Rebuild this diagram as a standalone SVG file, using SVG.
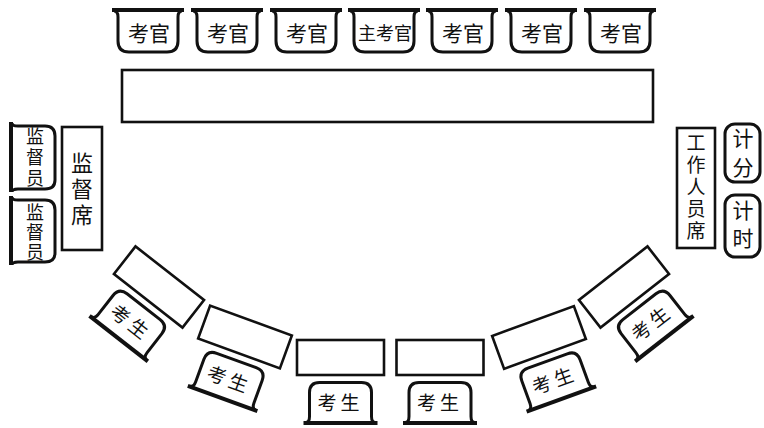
<svg xmlns="http://www.w3.org/2000/svg" xmlns:xlink="http://www.w3.org/1999/xlink" width="764" height="428" viewBox="0 0 764 428">
<style>
.ln{fill:none;stroke:#111;stroke-width:3;stroke-linejoin:round}
.bar{fill:none;stroke:#111;stroke-width:4}
.rc{fill:#fff;stroke:#111;stroke-width:2.6}
.t{font-family:"Noto Sans CJK SC","Noto Sans",sans-serif;fill:#111;text-anchor:middle;dominant-baseline:central}
.v{font-family:"Noto Sans CJK SC","Noto Sans",sans-serif;fill:#111;text-anchor:middle;writing-mode:vertical-rl}
</style>
<defs>
<g id="exam">
<path class="bar" d="M-36,10H36"/>
<path class="ln" d="M-34,11Q-30,11 -30,17V41Q-30,52 -19,52H19Q30,52 30,41V17Q30,11 34,11"/>
</g>
<g id="stud">
<rect class="rc" x="-43.5" y="-17.5" width="87" height="35"/>
<path class="ln" d="M-35,65Q-31,65 -31,59V35Q-31,25 -21,25H21Q31,25 31,35V59Q31,65 35,65"/>
<path class="bar" d="M-37,65.5H37"/>
<text class="t" x="0" y="44" font-size="19" letter-spacing="4">考生</text>
</g>
</defs>
<rect width="764" height="428" fill="#fff"/>
<g id="examiners">
<g id="ex1"><use xlink:href="#exam" x="148"/><text class="t" x="149" y="32" font-size="21">考官</text></g>
<g id="ex2"><use xlink:href="#exam" x="227"/><text class="t" x="228" y="32" font-size="21">考官</text></g>
<g id="ex3"><use xlink:href="#exam" x="306"/><text class="t" x="307" y="32" font-size="21">考官</text></g>
<g id="chief"><use xlink:href="#exam" x="384"/><text class="t" x="385" y="32" font-size="18">主考官</text></g>
<g id="ex5"><use xlink:href="#exam" x="462"/><text class="t" x="463" y="32" font-size="21">考官</text></g>
<g id="ex6"><use xlink:href="#exam" x="541"/><text class="t" x="542" y="32" font-size="21">考官</text></g>
<g id="ex7"><use xlink:href="#exam" x="620"/><text class="t" x="621" y="32" font-size="21">考官</text></g>
</g>
<g id="table"><rect class="rc" x="122" y="70" width="531" height="52"/></g>
<g id="sup1">
<path class="bar" d="M11,122V192"/>
<path class="ln" d="M12,123Q12,126 18,126H45Q55,126 55,136V180Q55,189 45,189H18Q12,189 12,192"/>
<text class="v" x="35" y="159" font-size="18" letter-spacing="3">监督员</text>
</g>
<g id="sup2">
<path class="bar" d="M11,196V265"/>
<path class="ln" d="M12,197Q12,200 18,200H45Q55,200 55,210V253Q55,262 45,262H18Q12,262 12,265"/>
<text class="v" x="35" y="233" font-size="18" letter-spacing="2">监督员</text>
</g>
<g id="supdesk">
<rect class="rc" x="62" y="127" width="40" height="123"/>
<text class="v" x="82" y="191" font-size="22" letter-spacing="4">监督席</text>
</g>
<g id="staffdesk">
<rect class="rc" x="677" y="128" width="38" height="120"/>
<text class="v" x="696" y="188" font-size="19" letter-spacing="3">工作人员席</text>
</g>
<g id="score">
<rect class="ln" x="725" y="124" width="35" height="58" rx="10"/>
<text class="v" x="743" y="157" font-size="21" letter-spacing="8">计分</text>
</g>
<g id="timer">
<rect class="ln" x="725" y="195" width="35" height="62" rx="10"/>
<text class="v" x="743" y="228" font-size="21" letter-spacing="7">计时</text>
</g>
<g id="students">
<g id="s1"><use xlink:href="#stud" transform="translate(159,287) rotate(38)"/></g>
<g id="s2"><use xlink:href="#stud" transform="translate(245,337) rotate(20)"/></g>
<g id="s3"><use xlink:href="#stud" transform="translate(340.5,357.5)"/></g>
<g id="s4"><use xlink:href="#stud" transform="translate(440,357.5)"/></g>
<g id="s5"><use xlink:href="#stud" transform="translate(539,337.5) rotate(-20)"/></g>
<g id="s6"><use xlink:href="#stud" transform="translate(624,287) rotate(-38)"/></g>
</g>
<g id="connectors"></g>
</svg>
